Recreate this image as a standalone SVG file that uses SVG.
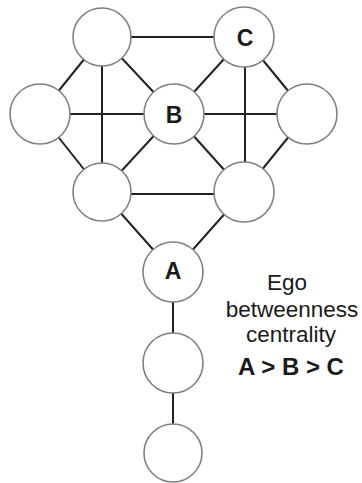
<svg xmlns="http://www.w3.org/2000/svg" width="362" height="483" viewBox="0 0 362 483">
  <style>
    .edge { stroke: #222; stroke-width: 2; fill: none; }
    .node circle { fill: #fff; stroke: #808080; stroke-width: 1.6; }
    .lbl { font-family: "Liberation Sans", Arial, sans-serif; font-weight: bold; font-size: 23px; fill: #1a1a1a; text-anchor: middle; }
    .cap { font-family: "Liberation Sans", Arial, sans-serif; font-size: 22.5px; fill: #1a1a1a; text-anchor: middle; }
  </style>
  <rect width="362" height="483" fill="#fff"/>
  <g id="edges">
    <line class="edge" x1="102" y1="37" x2="244" y2="37"/>
    <line class="edge" x1="102" y1="37" x2="40" y2="114"/>
    <line class="edge" x1="102" y1="37" x2="174" y2="114"/>
    <line class="edge" x1="102" y1="37" x2="102" y2="192"/>
    <line class="edge" x1="244" y1="37" x2="174" y2="114"/>
    <line class="edge" x1="245" y1="37" x2="245" y2="192"/>
    <line class="edge" x1="244" y1="37" x2="307" y2="114"/>
    <line class="edge" x1="40" y1="114" x2="307" y2="114"/>
    <line class="edge" x1="40" y1="114" x2="102" y2="192"/>
    <line class="edge" x1="307" y1="114" x2="244" y2="192"/>
    <line class="edge" x1="174" y1="114" x2="102" y2="192"/>
    <line class="edge" x1="174" y1="114" x2="244" y2="192"/>
    <line class="edge" x1="102" y1="194" x2="244" y2="194"/>
    <line class="edge" x1="102" y1="192" x2="173" y2="272"/>
    <line class="edge" x1="244" y1="192" x2="173" y2="272"/>
    <line class="edge" x1="173" y1="272" x2="173" y2="453"/>
  </g>
  <g id="n-top-left" class="node"><circle cx="102" cy="37" r="29"/></g>
  <g id="n-C" class="node"><circle cx="244" cy="37" r="30"/><text class="lbl" x="245" y="46">C</text></g>
  <g id="n-left" class="node"><circle cx="40" cy="114" r="30"/></g>
  <g id="n-B" class="node"><circle cx="174" cy="114" r="30"/><text class="lbl" x="174" y="123">B</text></g>
  <g id="n-right" class="node"><circle cx="307" cy="114" r="30"/></g>
  <g id="n-low-left" class="node"><circle cx="102" cy="192" r="29"/></g>
  <g id="n-low-right" class="node"><circle cx="244" cy="192" r="30"/></g>
  <g id="n-A" class="node"><circle cx="173" cy="272" r="30"/><text class="lbl" x="173" y="279">A</text></g>
  <g id="n-tail1" class="node"><circle cx="173" cy="363" r="30"/></g>
  <g id="n-tail2" class="node"><circle cx="173" cy="453" r="29"/></g>
  <g id="caption">
    <text class="cap" x="287" y="290">Ego</text>
    <text class="cap" x="292" y="317">betweenness</text>
    <text class="cap" x="291" y="342">centrality</text>
    <text class="cap" x="291" y="375" style="font-weight:bold;font-size:24px">A &gt; B &gt; C</text>
  </g>
</svg>
